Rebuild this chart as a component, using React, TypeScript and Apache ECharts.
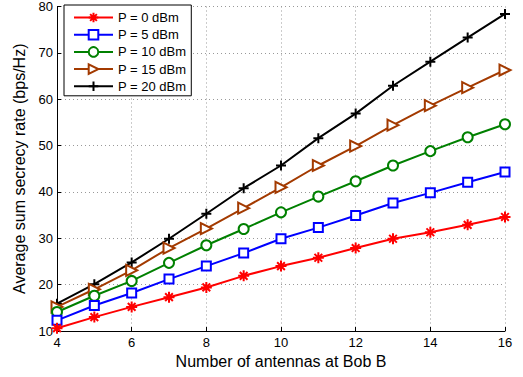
import React, { useEffect, useRef } from "react";
import * as echarts from "echarts";

const antennas = [4, 5, 6, 7, 8, 9, 10, 11, 12, 13, 14, 15, 16];
const seriesNames = ["P = 0 dBm", "P = 5 dBm", "P = 10 dBm", "P = 15 dBm", "P = 20 dBm"];
const p0 = [10.6, 13.0, 15.2, 17.3, 19.4, 21.9, 24.0, 25.8, 27.9, 29.9, 31.3, 32.9, 34.6];
const p5 = [12.3, 15.5, 18.2, 21.2, 24.0, 26.8, 29.9, 32.3, 34.9, 37.6, 39.8, 42.1, 44.3];
const p10 = [14.1, 17.6, 20.8, 24.7, 28.5, 32.0, 35.6, 39.0, 42.3, 45.7, 48.8, 51.8, 54.6];
const p15 = [15.2, 19.0, 23.1, 27.9, 32.1, 36.5, 41.0, 45.7, 49.9, 54.4, 58.6, 62.5, 66.3];
const p20 = [15.9, 20.1, 24.8, 29.9, 35.3, 40.8, 45.7, 51.6, 56.9, 62.9, 68.1, 73.3, 78.4];
const xTicks = { min: 4, max: 16, interval: 2 };
const yTicks = { min: 10, max: 80, interval: 10 };

const colors = ["#ff0000", "#0000ff", "#008000", "#a33a00", "#000000"];
const asterisk = "path://M5,0L5,10M0,5L10,5M1.5,1.5L8.5,8.5M1.5,8.5L8.5,1.5";
const plus = "path://M5,0L5,10M0,5L10,5";
const symbols = [asterisk, "emptyRect", "emptyCircle", "emptyTriangle", plus];
const symbolSizes = [11, 9, 10, 11, 10];
const symbolRotates = [0, 0, 0, -90, 0];
const values = [p0, p5, p10, p15, p20];

const FONT = "'Liberation Sans', Arial, Helvetica, sans-serif";

export default function App() {
  const ref = useRef<HTMLDivElement>(null);
  useEffect(() => {
    if (!ref.current) return;
    const chart = echarts.init(ref.current, undefined, { renderer: "svg" });
    chart.setOption({
      animation: false,
      backgroundColor: "#ffffff",
      textStyle: { fontFamily: FONT },
      grid: { left: 57, right: 18, top: 1, bottom: 46, containLabel: false },
      legend: {
        orient: "vertical",
        left: 64,
        top: 5,
        data: seriesNames,
        backgroundColor: "#ffffff",
        borderColor: "#000000",
        borderWidth: 1,
        borderRadius: 0,
        padding: [6, 5, 3, 9],
        itemWidth: 39,
        itemHeight: 12,
        itemGap: 4.2,
        textStyle: { fontSize: 13, color: "#000", fontFamily: FONT },
      },
      xAxis: {
        type: "value",
        min: xTicks.min,
        max: xTicks.max,
        interval: xTicks.interval,
        name: "Number of antennas at Bob B",
        nameLocation: "middle",
        nameGap: 21,
        nameTextStyle: { fontSize: 16, color: "#000", fontFamily: FONT },
        axisLine: { show: true, onZero: false, lineStyle: { color: "#000", width: 1 } },
        axisTick: { show: true, inside: true, length: 4, lineStyle: { color: "#000" } },
        axisLabel: { fontSize: 13, color: "#000", margin: 5, fontFamily: FONT },
        splitLine: { show: true, lineStyle: { color: "#999", type: [1, 3], width: 1 } },
      },
      yAxis: {
        type: "value",
        min: yTicks.min,
        max: yTicks.max,
        interval: yTicks.interval,
        name: "Average sum secrecy rate (bps/Hz)",
        nameLocation: "middle",
        nameGap: 26,
        nameTextStyle: { fontSize: 16, color: "#000", fontFamily: FONT },
        axisLine: { show: true, onZero: false, lineStyle: { color: "#000", width: 1 } },
        axisTick: { show: true, inside: true, length: 4, lineStyle: { color: "#000" } },
        axisLabel: { fontSize: 13, color: "#000", margin: 4, fontFamily: FONT },
        splitLine: { show: true, lineStyle: { color: "#999", type: [1, 3], width: 1 } },
      },
      series: seriesNames.map((name, i) => ({
        name,
        type: "line",
        data: antennas.map((x, j) => [x, values[i][j]]),
        symbol: symbols[i],
        symbolSize: symbolSizes[i],
        symbolRotate: symbolRotates[i],
        showAllSymbol: true,
        z: 10 - i,
        lineStyle: { color: colors[i], width: 2 },
        itemStyle: { color: colors[i], borderColor: colors[i], borderWidth: 2 },
      })),
    });
    return () => chart.dispose();
  }, []);
  return <div ref={ref} style={{ width: 523, height: 377, position: "absolute", left: 0, top: 0 }} />;
}
